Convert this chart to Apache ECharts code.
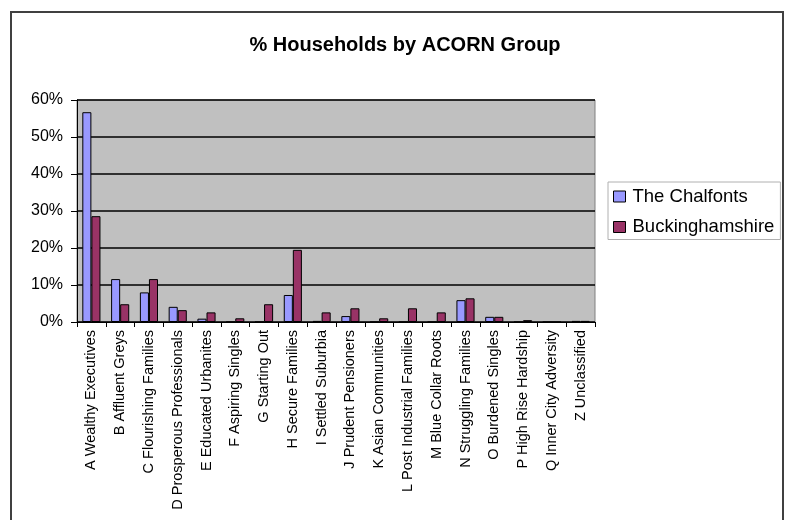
<!DOCTYPE html>
<html>
<head>
<meta charset="utf-8">
<script src="https://cdn.jsdelivr.net/npm/echarts@6/dist/echarts.min.js"></script>
<style>html,body{margin:0;padding:0;background:#fff;}#c{width:785px;height:520px;}</style>
</head>
<body>
<div id="c"></div>
<script>
var categories = ["A Wealthy Executives","B Affluent Greys","C Flourishing Families","D Prosperous Professionals","E Educated Urbanites","F Aspiring Singles","G Starting Out","H Secure Families","I Settled Suburbia","J Prudent Pensioners","K Asian Communities","L Post Industrial Families","M Blue Collar Roots","N Struggling Families","O Burdened Singles","P High Rise Hardship","Q Inner City Adversity","Z Unclassified"];
var chalfonts = [56.7, 11.6, 8.0, 4.1, 0.9, 0, 0, 7.3, 0.3, 1.6, 0, 0, 0, 5.9, 1.4, 0, 0, 0.3];
var bucks = [28.6, 4.8, 11.6, 3.2, 2.6, 1.0, 4.8, 19.5, 2.6, 3.7, 1.0, 3.7, 2.6, 6.4, 1.4, 0.5, 0, 0.3];
var yTicks = [0, 10, 20, 30, 40, 50, 60];
var seriesNames = ["The Chalfonts", "Buckinghamshire"];

var chart = echarts.init(document.getElementById('c'), null, {renderer: 'canvas'});
var font = 'Liberation Sans, Arial, sans-serif';
chart.setOption({
  animation: false,
  backgroundColor: '#fff',
  title: {
    text: '% Households by ACORN Group',
    left: 400, textAlign: 'center', top: 30,
    textStyle: {fontFamily: font, fontSize: 20, fontWeight: 'bold', color: '#000'}
  },
  legend: {
    orient: 'vertical',
    left: 608, top: 182,
    padding: [5, 6, 3, 5],
    itemGap: 11.5,
    itemWidth: 12, itemHeight: 11,
    backgroundColor: '#fff',
    borderColor: '#b0b0b0', borderWidth: 1,
    textStyle: {fontFamily: font, fontSize: 18.5, color: '#000', padding: [0, 0, 0, 2]},
    data: [
      {name: seriesNames[0], icon: 'rect', itemStyle: {color: '#9999ff', borderColor: '#000', borderWidth: 1}},
      {name: seriesNames[1], icon: 'rect', itemStyle: {color: '#993366', borderColor: '#000', borderWidth: 1}}
    ]
  },
  grid: {
    left: 77, top: 100, right: 190, bottom: 198,
    show: true, backgroundColor: '#c0c0c0', borderColor: '#808080', borderWidth: 1
  },
  xAxis: {
    type: 'category',
    data: categories,
    axisLine: {lineStyle: {color: '#000', width: 1}},
    axisTick: {show: true, length: 5, lineStyle: {color: '#000'}, alignWithLabel: false},
    axisLabel: {rotate: 90, interval: 0, margin: 8, fontFamily: font, fontSize: 14.5, color: '#000'}
  },
  yAxis: {
    type: 'value',
    min: yTicks[0], max: yTicks[yTicks.length - 1], interval: 10,
    axisLine: {show: true, lineStyle: {color: '#000', width: 1}},
    axisTick: {show: true, length: 6, lineStyle: {color: '#000'}},
    splitLine: {show: true, lineStyle: {color: '#000', width: 1.5}},
    axisLabel: {formatter: '{value}%', margin: 14, fontFamily: font, fontSize: 16, color: '#000'}
  },
  series: [
    {name: seriesNames[0], type: 'bar', data: chalfonts, barGap: '0%', barCategoryGap: '37%',
     itemStyle: {color: '#9999ff', borderColor: '#000', borderWidth: 1}},
    {name: seriesNames[1], type: 'bar', data: bucks, barGap: '0%', barCategoryGap: '37%',
     itemStyle: {color: '#993366', borderColor: '#000', borderWidth: 1}}
  ],
  graphic: [
    {type: 'rect', shape: {x: 11, y: 12, width: 772, height: 530}, style: {fill: 'none', stroke: '#404040', lineWidth: 2}, silent: true}
  ]
});
</script>
</body>
</html>
